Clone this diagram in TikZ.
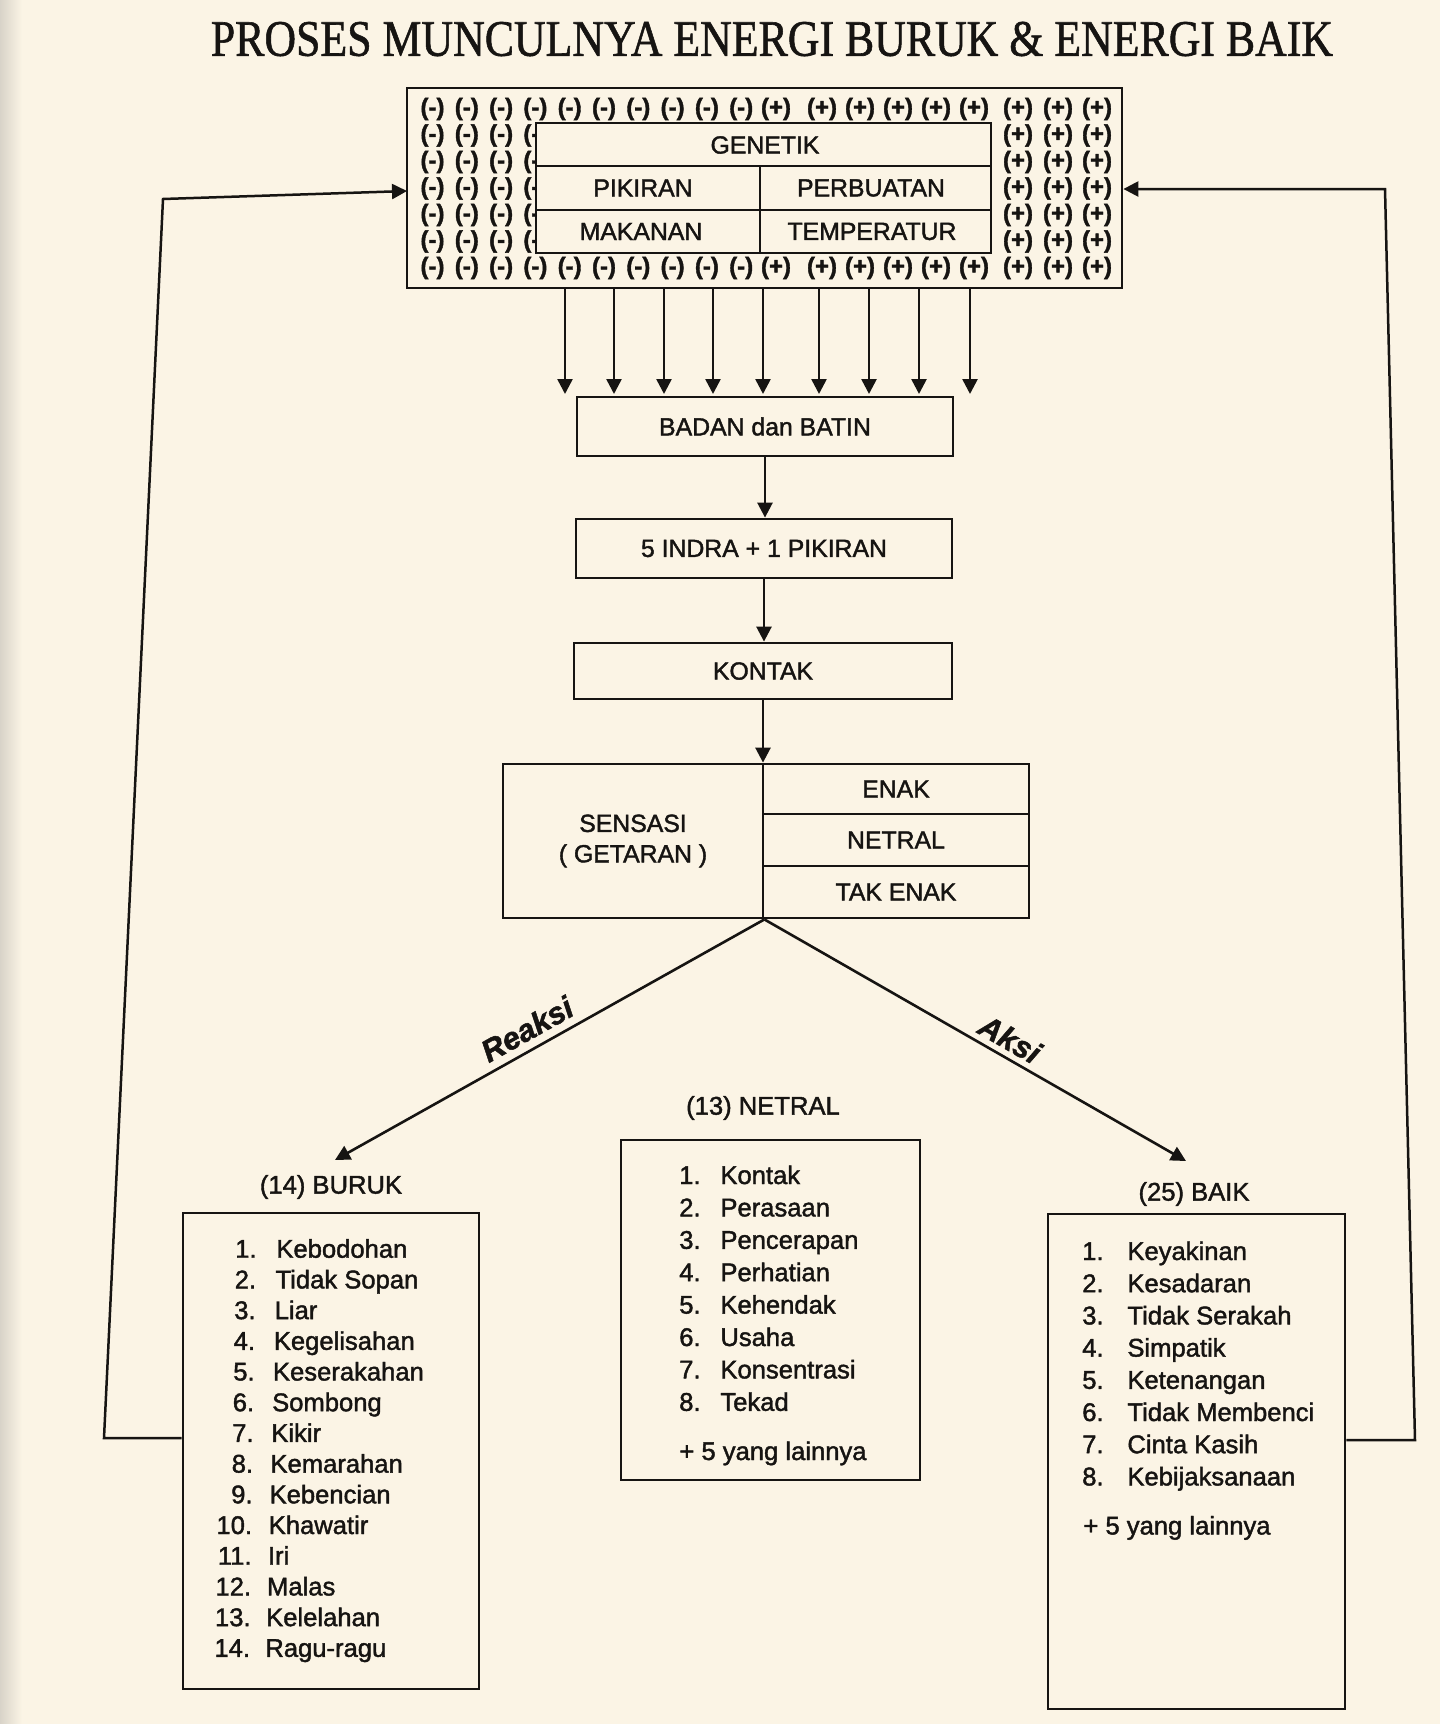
\documentclass[tikz,border=0pt]{standalone}
\usepackage{fontspec}
\usepackage{graphicx}
\setmainfont{Liberation Sans}[FakeBold=1.6]
\newfontfamily\dgserif{Liberation Serif}[FakeBold=1.2]
\usetikzlibrary{arrows.meta}
\definecolor{bgc}{RGB}{251,244,229}
\definecolor{ink}{RGB}{22,20,18}
\newcommand\dgboxfont{\fontsize{12.4pt}{15.2pt}\selectfont}
\newcommand\dglistfont{\fontsize{12.8pt}{15pt}\selectfont}
\newcommand\dgsignfont{\fontsize{12pt}{13pt}\selectfont\bfseries}
\newcommand\dglblfont{\fontsize{15.5pt}{17pt}\selectfont\bfseries\itshape}
\begin{document}
\begin{tikzpicture}[x=0.5pt,y=-0.5pt,
  box/.style={draw=ink,line width=1.4pt,inner sep=0pt,text=ink,font=\dgboxfont,align=center},
  lbl/.style={inner sep=0pt,text=ink,font=\dgboxfont},
  lst/.style={inner sep=0pt,text=ink,font=\dglistfont},
  sgn/.style={inner sep=0pt,text=ink,font=\dgsignfont},
  ln/.style={draw=ink,line width=1.4pt},
  arr/.style={draw=ink,line width=1.3pt,-{Triangle[length=7.5pt,width=7.5pt]}},
  ]
\fill[bgc] (0,0) rectangle (1440,1724);
\useasboundingbox (0,0) rectangle (1440,1724);
\shade[left color=bgc!72!gray, right color=bgc] (0,0) rectangle (22,1724);

% title
\node[inner sep=0pt,text=ink] (title) at (772,39)
  {\dgserif\resizebox{561pt}{17pt}{PROSES MUNCULNYA ENERGI BURUK \& ENERGI BAIK}};

% outer box with signs
\node[box,minimum width=357.5pt,minimum height=100pt] (outer) at (764.5,188) {};
\foreach \yy [count=\r] in {109,268}{
  \foreach \xx [count=\c] in {432.5,466.8,501.1,535.4,569.7,604,638.3,672.6,706.9,741.2}
    \node[sgn] (mr\r-\c) at (\xx,\yy) {(-)};
  \foreach \xx [count=\c] in {776,822,860,898,936,974,1018,1058,1097}
    \node[sgn] (pr\r-\c) at (\xx,\yy) {(+)};
}
\foreach \yy [count=\r] in {135.5,162,188.5,215,241.5}{
  \foreach \xx [count=\c] in {432.5,466.8,501.1,535.4}
    \node[sgn] (ml\r-\c) at (\xx,\yy) {(-)};
  \foreach \xx [count=\c] in {1018,1058,1097}
    \node[sgn] (pl\r-\c) at (\xx,\yy) {(+)};
}
\node[box,fill=bgc,minimum width=227.5pt,minimum height=65pt] (inner) at (763.5,188) {};
\draw[ln] (536,166) -- (991,166);
\draw[ln] (536,210) -- (991,210);
\draw[ln] (760,166) -- (760,253);
\node[lbl] (genetik) at (765,145) {GENETIK};
\node[lbl] (pikiran) at (643,188) {PIKIRAN};
\node[lbl] (perbuatan) at (871,188) {PERBUATAN};
\node[lbl] (makanan) at (641,231.5) {MAKANAN};
\node[lbl] (temperatur) at (872,231.5) {TEMPERATUR};

% nine arrows
\foreach \xx [count=\i] in {565,614,664,713,763,819,869,919,970}{
  \coordinate (as\i) at (\xx,288);
  \coordinate (ae\i) at (\xx,394);
  \draw[arr] (as\i) -- (ae\i);
}

% chain
\node[box,minimum width=188pt,minimum height=29.5pt] (badan) at (765,426.5) {BADAN dan BATIN};
\node[box,minimum width=188pt,minimum height=29.5pt] (indra) at (764,548.5) {5 INDRA + 1 PIKIRAN};
\node[box,minimum width=189pt,minimum height=28pt] (kontak) at (763,671) {KONTAK};
\node[box,minimum width=130pt,minimum height=77pt] (sensasi) at (633,841) {SENSASI\\( GETARAN )};
\node[box,minimum width=133pt,minimum height=25pt] (enak) at (896,789) {ENAK};
\node[box,minimum width=133pt,minimum height=26pt] (netral) at (896,840) {NETRAL};
\node[box,minimum width=133pt,minimum height=26pt] (takenak) at (896,892) {TAK ENAK};

\draw[arr] (badan.south) -- (badan.south |- indra.north);
\draw[arr] (indra.south) -- (indra.south |- kontak.north);
\draw[arr] (kontak.south) -- (kontak.south |- sensasi.north);

% branches
\coordinate (apex) at (sensasi.south east);
\coordinate (tipL) at (335,1160);
\coordinate (tipR) at (1186,1161);
\draw[arr] (apex) -- (tipL);
\draw[arr] (apex) -- (tipR);
\node[lbl,font=\dglblfont,rotate=29.3] (reaksi) at (527,1029) {Reaksi};
\node[lbl,font=\dglblfont,rotate=-29.8] (aksi) at (1010,1039) {Aksi};

% headers
\node[lst] (hburuk) at (331,1187) {(14) BURUK};
\node[lst] (hnetral) at (763,1108) {(13) NETRAL};
\node[lst] (hbaik) at (1194,1194) {(25) BAIK};

% list boxes
\node[box,minimum width=148pt,minimum height=238pt] (buruk) at (331,1451) {};
\node[box,minimum width=149.5pt,minimum height=170pt] (netralbox) at (770.5,1310) {};
\node[box,minimum width=148.5pt,minimum height=247.5pt] (baik) at (1196.5,1461.5) {};

\foreach \t [count=\i] in {Kebodohan,Tidak Sopan,Liar,Kegelisahan,Keserakahan,Sombong,Kikir,Kemarahan,Kebencian,Khawatir,Iri,Malas,Kelelahan,Ragu-ragu}{
  \pgfmathsetmacro\yb{1257.7+30.7*(\i-1)}
  \pgfmathsetmacro\xn{257-0.5*(\i-1)}
  \pgfmathsetmacro\xt{276-0.85*(\i-1)}
  \node[lst,anchor=base east] (bn\i) at (\xn,\yb) {\i.};
  \node[lst,anchor=base west] (bt\i) at (\xt,\yb) {\t};
}
\foreach \t [count=\i] in {Kontak,Perasaan,Pencerapan,Perhatian,Kehendak,Usaha,Konsentrasi,Tekad}{
  \pgfmathsetmacro\yb{1184+32.4*(\i-1)}
  \node[lst,anchor=base east] (nn\i) at (701,\yb) {\i.};
  \node[lst,anchor=base west] (nt\i) at (720,\yb) {\t};
}
\node[lst,anchor=base west] (nplus) at (679,1460) {+ 5 yang lainnya};
\foreach \t [count=\i] in {Keyakinan,Kesadaran,Tidak Serakah,Simpatik,Ketenangan,Tidak Membenci,Cinta Kasih,Kebijaksanaan}{
  \pgfmathsetmacro\yb{1260+32.2*(\i-1)}
  \node[lst,anchor=base east] (kn\i) at (1104,\yb) {\i.};
  \node[lst,anchor=base west] (kt\i) at (1127,\yb) {\t};
}
\node[lst,anchor=base west] (kplus) at (1083,1534.5) {+ 5 yang lainnya};

% feedback loops
\coordinate (L2) at (104,1438);
\coordinate (L3) at (163,199);
\coordinate (L4) at (407,191);
\draw[arr,line width=1.25pt] (buruk.west |- L2) -- (L2) -- (L3) -- (L4);
\coordinate (R2) at (1415,1440);
\coordinate (R3) at (1385,189);
\draw[arr,line width=1.25pt] (baik.east |- R2) -- (R2) -- (R3) -- (outer.east |- R3);
\end{tikzpicture}
\end{document}
